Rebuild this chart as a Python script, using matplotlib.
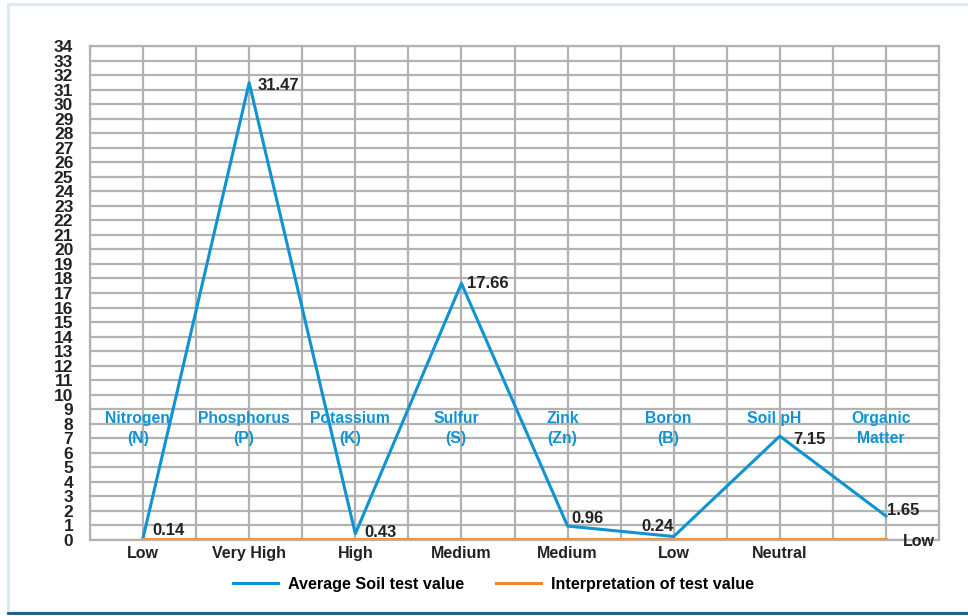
import matplotlib.pyplot as plt
from matplotlib.patches import Rectangle
from matplotlib.lines import Line2D

plt.rcParams['font.family'] = ['Liberation Sans', 'DejaVu Sans']

nutrients = ["Nitrogen\n(N)", "Phosphorus\n(P)", "Potassium\n(K)", "Sulfur\n(S)",
             "Zink\n(Zn)", "Boron\n(B)", "Soil pH", "Organic\nMatter"]
interpretation = ["Low", "Very High", "High", "Medium", "Medium", "Low", "Neutral", "Low"]
avg_values = [0.14, 31.47, 0.43, 17.66, 0.96, 0.24, 7.15, 1.65]
value_labels = ["0.14", "31.47", "0.43", "17.66", "0.96", "0.24", "7.15", "1.65"]
interp_values = [0.1, 0.1, 0.1, 0.1, 0.1, 0.1, 0.1, 0.1]

blue = "#0f93d2"
orange = "#f0862e"
grid_c = "#b2b2b2"
dark = "#222222"

x = [2 * i + 1 for i in range(len(avg_values))]

fig = plt.figure(figsize=(9.68, 6.16), dpi=100)
# page frame
fig.add_artist(Rectangle((8 / 968, 4 / 616), 1.2, 1 - 8 / 616, transform=fig.transFigure,
                         fill=False, edgecolor="#dce8f2", linewidth=2))
fig.add_artist(Line2D([8 / 968, 1], [3 / 616, 3 / 616], transform=fig.transFigure,
                      color="#17588a", linewidth=2))

ax = fig.add_axes([90 / 968, 76 / 616, 849 / 968, 494 / 616])
ax.set_xlim(0, 16)
ax.set_ylim(0, 34)
ax.set_xticks(range(0, 17))
ax.set_yticks(range(0, 35))
ax.grid(True, color=grid_c, linewidth=1.6)
ax.set_axisbelow(True)
for s in ax.spines.values():
    s.set_color(grid_c)
    s.set_linewidth(1.6)
ax.tick_params(length=0)
ax.tick_params(axis="y", pad=12)
ax.set_yticklabels([str(v) for v in range(0, 35)], fontsize=12.5, fontweight="bold",
                   color=dark)
ax.set_xticklabels([])

ax.plot(x, avg_values, color=blue, linewidth=2.2, label="Average Soil test value")
ax.plot(x, interp_values, color=orange, linewidth=2.2, label="Interpretation of test value")

# value labels (offsets in pixels / data units)
offsets = [(9, 0.5), (8, -0.2), (9, 0.1), (6, 0.0), (4, 0.55), (-32, 0.7), (13, -0.25), (1, 0.4)]
for xi, yi, lab, (dx, dy) in zip(x, avg_values, value_labels, offsets):
    ax.annotate(lab, (xi, yi + dy), xytext=(dx, 0), textcoords="offset pixels",
                fontsize=12, fontweight="bold", color=dark, va="center", ha="left")

# nutrient names
for xi, name in zip(x, nutrients):
    ax.text(xi - 0.1, 8.85, name, ha="center", va="top", fontsize=11.3, fontweight="bold",
            color=blue, linespacing=1.35)

# interpretation labels below axis
for xi, lab in zip(x[:-1], interpretation[:-1]):
    ax.text(xi, -0.95, lab, ha="center", va="center", fontsize=11.5, fontweight="bold",
            color=dark)
ax.text(15.93, -0.1, interpretation[-1], ha="right", va="center", fontsize=11.5,
        fontweight="bold", color=dark)

ax.legend(loc="upper center", bbox_to_anchor=(0.475, -0.045), ncol=2, frameon=False,
          prop={"weight": "bold", "size": 11.6}, handlelength=2.8, handletextpad=0.6,
          columnspacing=2.0)

fig.savefig("out.png", dpi=100)
